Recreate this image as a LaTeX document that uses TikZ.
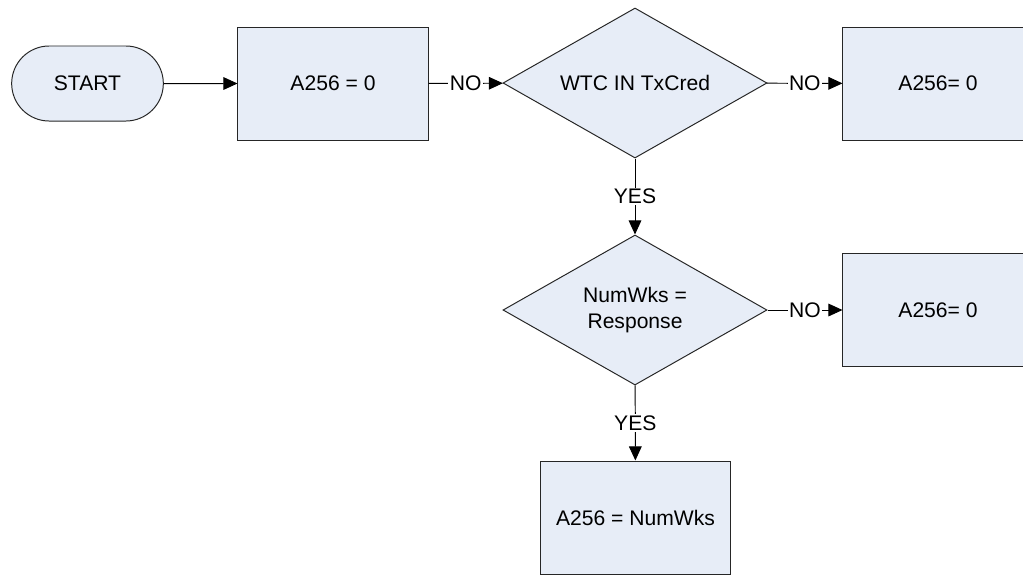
\documentclass[tikz,border=0pt]{standalone}
\usepackage{fontspec}
\setmainfont{Liberation Sans}
\usetikzlibrary{shapes.geometric,shapes.misc,arrows.meta}
\definecolor{boxFill}{RGB}{231,237,247}
\begin{document}
\begin{tikzpicture}[x=0.025cm,y=-0.025cm,font=\fontsize{15}{18.5}\selectfont,
terminal/.style={rounded rectangle,draw=black!85,fill=boxFill,line width=0.7pt,minimum width=4.025cm,minimum height=1.875cm},
process/.style={rectangle,draw=black!85,fill=boxFill,line width=0.7pt,minimum width=4.75cm,minimum height=2.825cm},
decision/.style={diamond,aspect=1.76,draw=black!85,fill=boxFill,line width=0.7pt,minimum width=6.6cm,minimum height=3.75cm,align=center,inner sep=0pt},
flow/.style={draw=black,line width=0.7pt,-{Triangle[length=10pt,width=9pt]}},
answer/.style={fill=white,inner sep=1pt}]
\path[use as bounding box] (0,0) rectangle (1023,575);
\clip (0,0) rectangle (1023,575);
\node[terminal] (start) at (87.5,83.5) {START};
\node[process] (init) at (333,83.5) {A256 = 0};
\node[decision] (inCred) at (635,83) {WTC IN TxCred};
\node[process] (zeroA) at (938,83.5) {A256= 0};
\node[decision] (sameWks) at (635,310) {NumWks =\\Response};
\node[process] (zeroB) at (938,310) {A256= 0};
\node[process] (setWks) at (635.5,517.5) {A256 = NumWks};
\draw[flow] (start) -- (init);
\draw[flow] (init) -- node[answer] {NO} (inCred);
\draw[flow] (inCred) -- node[answer] {NO} (zeroA);
\draw[flow] (inCred) -- node[answer] {YES} (sameWks);
\draw[flow] (sameWks) -- node[answer] {NO} (zeroB);
\draw[flow] (sameWks) -- node[answer] {YES} (setWks);
\end{tikzpicture}
\end{document}
